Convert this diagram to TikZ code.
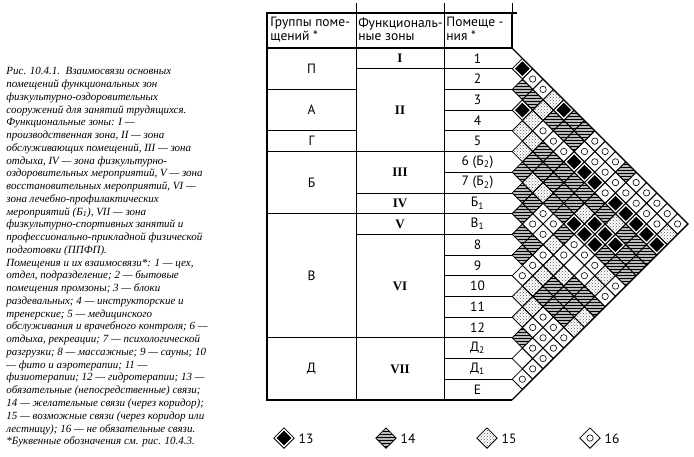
\documentclass[tikz,border=0pt]{standalone}
\usepackage{fontspec}
\setmainfont{Liberation Serif}
\setsansfont{PT Sans}
\usetikzlibrary{shapes.geometric,patterns}

\begin{document}
\begin{tikzpicture}[x=1pt, y=-1pt, line width=0.8pt, font=\sffamily\fontsize{13.5}{13.5}\selectfont]
    \tikzstyle{cell}=[diamond, draw, minimum width=20.7pt, minimum height=20.7pt, inner sep=0pt]
    \tikzstyle{rel13}=[cell, fill=white, path picture={\fill[black] ([yshift=-2.8pt]path picture bounding box.north) -- ([xshift=-2.8pt]path picture bounding box.east) -- ([yshift=2.8pt]path picture bounding box.south) -- ([xshift=2.8pt]path picture bounding box.west) -- cycle;}]
    \tikzstyle{rel14}=[cell, preaction={fill=gray!55}, pattern=horizontal lines]
    \tikzstyle{rel15}=[cell, pattern=crosshatch dots, pattern color=black!65]
    \tikzstyle{rel16}=[cell, fill=white, path picture={\draw[black, line width=0.6pt] (path picture bounding box.center) circle (3.2pt);}]
    \tikzstyle{rel0}=[cell, fill=white]
    \tikzstyle{zone}=[font=\rmfamily\bfseries\fontsize{13}{14}\selectfont]
    \useasboundingbox (0,0) rectangle (694,456);
    % caption
    \node[anchor=north west, inner sep=0pt, align=left, font=\rmfamily\itshape\fontsize{11}{12.76}\selectfont] (caption) at (6,67) {%
      Рис. 10.4.1.\ \ Взаимосвязи основных\\
      помещений функциональных зон\\
      физкультурно-оздоровительных\\
      сооружений для занятий трудящихся.\\
      Функциональные зоны: I —\\
      производственная зона, II — зона\\
      обслуживающих помещений, III — зона\\
      отдыха, IV — зона физкультурно-\\
      оздоровительных мероприятий, V — зона\\
      восстановительных мероприятий, VI —\\
      зона лечебно-профилактических\\
      мероприятий (Б\textsubscript{1}), VII — зона\\
      физкультурно-спортивных занятий и\\
      профессионально-прикладной физической\\
      подготовки (ППФП).\\
      Помещения и их взаимосвязи*: 1 — цех,\\
      отдел, подразделение; 2 — бытовые\\
      помещения промзоны; 3 — блоки\\
      раздевальных; 4 — инструкторские и\\
      тренерские; 5 — медицинского\\
      обслуживания и врачебного контроля; 6 —\\
      отдыха, рекреации; 7 — психологической\\
      разгрузки; 8 — массажные; 9 — сауны; 10\\
      — фито и аэротерапии; 11 —\\
      физиотерапии; 12 — гидротерапии; 13 —\\
      обязательные (непосредственные) связи;\\
      14 — желательные связи (через коридор);\\
      15 — возможные связи (через коридор или\\
      лестницу); 16 — не обязательные связи.\\
      *Буквенные обозначения см. рис. 10.4.3.};
    % table
    \draw[line width=1.3pt] (512,48) -- (512,13) -- (267,13) -- (267,400) -- (512,400);
    \draw[line width=1.3pt] (512,13) -- (517,13);
    \draw[line width=1.8pt] (267,48) -- (512,48);
    \draw (356,3) -- (356,400); \draw (444,3) -- (444,400); \draw (512,3) -- (512,13);
    \foreach \r in {2,4,5,8,14} \draw (267,{48+\r*20.7}) -- (356,{48+\r*20.7});
    \foreach \r in {1,5,7,8,9,14} \draw (356,{48+\r*20.7}) -- (444,{48+\r*20.7});
    \foreach \r in {1,...,16} \draw (444,{48+\r*20.7}) -- (512,{48+\r*20.7});
    \node[anchor=north west, align=left, inner sep=0pt] (h1) at (270,17) {Группы поме-\\щений *};
    \node[anchor=north west, align=left, inner sep=0pt] (h2) at (358,17) {Функциональ-\\ные зоны};
    \node[anchor=north west, align=left, inner sep=0pt] (h3) at (446,17) {Помеще -\\ния *};
    \node (gP) at (311.5,68.7) {П};
    \node (gA) at (311.5,110.1) {А};
    \node (gG) at (311.5,141.2) {Г};
    \node (gB) at (311.5,182.6) {Б};
    \node (gV) at (311.5,275.7) {В};
    \node (gD) at (311.5,368.9) {Д};
    \node[zone] (z1) at (400,58.4) {I};
    \node[zone] (z2) at (400,110.1) {II};
    \node[zone] (z3) at (400,172.2) {III};
    \node[zone] (z4) at (400,203.3) {IV};
    \node[zone] (z5) at (400,224) {V};
    \node[zone] (z6) at (400,286.1) {VI};
    \node[zone] (z7) at (400,368.9) {VII};
    \foreach \r/\t in {1/1,2/2,3/3,4/4,5/5,6/{6 (Б\textsubscript{2})},7/{7 (Б\textsubscript{2})},8/{Б\textsubscript{1}},9/{В\textsubscript{1}},10/8,11/9,12/10,13/11,14/12,15/{Д\textsubscript{2}},16/{Д\textsubscript{1}},17/Е}
      \node (r\r) at (477.5,{48+(\r-0.5)*20.7}) {\t};
    % matrix of links
    \foreach \i/\j in {1/2,3/4,1/6,3/9,3/10,3/11,3/13,3/14,6/12,5/13,3/15,6/13,5/14,3/16,6/14,5/15,3/17}
      \node[rel13] (c\i-\j) at ({512+(\j-\i)*10.35},{48+(\i+\j-1)*10.35}) {};
    \foreach \i/\j in {2/3,2/4,2/6,1/7,2/7,1/8,2/8,4/7,5/7,4/8,6/7,5/8,4/9,1/12,5/9,4/10,7/8,5/10,4/11,7/9,6/10,5/11,4/12,8/9,6/11,4/13,9/10,7/12,4/15,9/11,4/16,10/11,6/15,5/16,4/17,6/16,5/17,6/17,10/14,9/15,11/14,10/15,9/16,11/15,10/16,9/17,11/16,14/15}
      \node[rel14] (c\i-\j) at ({512+(\j-\i)*10.35},{48+(\i+\j-1)*10.35}) {};
    \foreach \i/\j in {1/5,2/5,3/5,4/5,4/6,5/6,6/8,6/9,5/12,4/14,2/17,8/12,9/13,10/13,9/14,7/16,11/13,8/16,12/13,12/14,13/14,10/17,11/17}
      \node[rel15] (c\i-\j) at ({512+(\j-\i)*10.35},{48+(\i+\j-1)*10.35}) {};
    \foreach \i/\j in {1/3,1/4,3/6,3/7,1/9,3/8,2/9,1/10,2/10,1/11,2/11,2/12,1/13,3/12,2/13,1/14,2/14,1/15,7/10,2/15,1/16,8/10,7/11,2/16,1/17,8/11,7/13,9/12,8/13,7/14,10/12,7/15,11/12,8/15,7/17,8/17,12/15,13/15,12/16,13/16,12/17,14/16,13/17,14/17,15/17,16/17}
      \node[rel16] (c\i-\j) at ({512+(\j-\i)*10.35},{48+(\i+\j-1)*10.35}) {};
    \foreach \i/\j in {8/14,15/16}
      \node[rel0] (c\i-\j) at ({512+(\j-\i)*10.35},{48+(\i+\j-1)*10.35}) {};
    \draw[line width=1.2pt] (512,48) -- (687.95,223.95) -- (512,399.9);
    % legend
    \node[rel13] (k13) at (284,438) {}; \node[anchor=west] (t13) at (295,439) {13};
    \node[rel14] (k14) at (386,438) {}; \node[anchor=west] (t14) at (397,439) {14};
    \node[rel15] (k15) at (487,438) {}; \node[anchor=west] (t15) at (498,439) {15};
    \node[rel16] (k16) at (590,438) {}; \node[anchor=west] (t16) at (601,439) {16};
\end{tikzpicture}
\end{document}
